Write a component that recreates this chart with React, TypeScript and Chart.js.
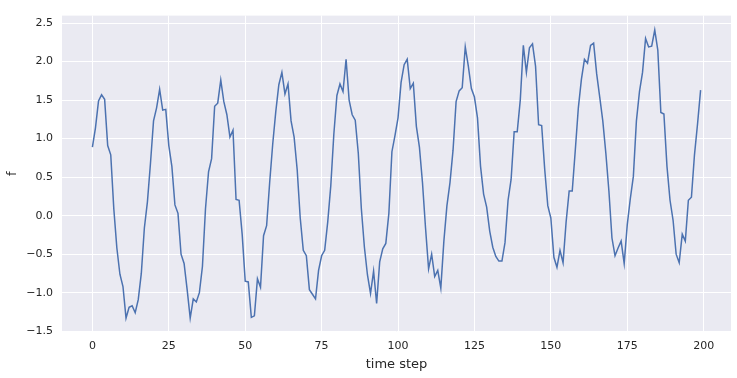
import { useEffect, useRef } from 'react';
import { Chart, registerables } from 'chart.js';

Chart.register(...registerables);

// time step indices 0..199
const timeSteps: number[] = Array.from({ length: 200 }, (_, i) => i);

// f values, by time step
const f: number[] = [
  // 0-32
  0.89, 1.14, 1.49, 1.57, 1.51, 0.91, 0.79, 0.09, -0.42, -0.76, -0.92, -1.33, -1.19, -1.17, -1.26, -1.09, -0.75,
  -0.16, 0.18, 0.68, 1.23, 1.4, 1.64, 1.37, 1.38, 0.91, 0.64, 0.14, 0.03, -0.5, -0.62, -0.96, -1.33,
  // 33-65
  -1.08, -1.12, -1.0, -0.66, 0.09, 0.57, 0.74, 1.42, 1.46, 1.76, 1.48, 1.31, 1.02, 1.11, 0.21, 0.2, -0.24,
  -0.85, -0.86, -1.32, -1.3, -0.82, -0.93, -0.26, -0.13, 0.43, 0.93, 1.35, 1.7, 1.86, 1.58, 1.71, 1.23,
  // 66-97
  1.02, 0.6, -0.03, -0.45, -0.52, -0.96, -1.02, -1.08, -0.71, -0.52, -0.45, -0.08, 0.39, 1.06, 1.56, 1.71,
  1.61, 2.03, 1.5, 1.31, 1.24, 0.81, 0.09, -0.41, -0.77, -1.01, -0.72, -1.14, -0.6, -0.43, -0.36, 0.03,
  // 98-130
  0.83, 1.04, 1.27, 1.73, 1.96, 2.03, 1.65, 1.72, 1.16, 0.89, 0.43, -0.16, -0.69, -0.5, -0.79, -0.71, -0.94,
  -0.33, 0.13, 0.43, 0.85, 1.48, 1.62, 1.66, 2.19, 1.94, 1.65, 1.54, 1.27, 0.64, 0.28, 0.11, -0.2,
  // 131-163
  -0.41, -0.53, -0.59, -0.59, -0.35, 0.2, 0.47, 1.09, 1.09, 1.5, 2.21, 1.86, 2.18, 2.23, 1.94, 1.18, 1.17,
  0.6, 0.13, -0.03, -0.54, -0.67, -0.45, -0.61, -0.08, 0.32, 0.32, 0.85, 1.4, 1.77, 2.03, 1.98, 2.21,
  // 164-199
  2.24, 1.84, 1.54, 1.23, 0.81, 0.32, -0.29, -0.52, -0.42, -0.33, -0.62, -0.12, 0.22, 0.51, 1.23, 1.61, 1.86,
  2.3, 2.19, 2.2, 2.41, 2.15, 1.34, 1.32, 0.64, 0.2, -0.06, -0.5, -0.61, -0.24, -0.33, 0.2, 0.24, 0.79, 1.19, 1.63,
];

const xTicks: number[] = [0, 25, 50, 75, 100, 125, 150, 175, 200];
const yTicks: number[] = [-1.5, -1.0, -0.5, 0.0, 0.5, 1.0, 1.5, 2.0, 2.5];

const xLabel = 'time step';
const yLabel = 'f';

const FONT = "'DejaVu Sans', sans-serif";
const TEXT = '#262626';

export default function App() {
  const ref = useRef<HTMLCanvasElement>(null);
  useEffect(() => {
    document.body.style.margin = '0';
    const canvas = ref.current;
    if (!canvas) return;
    const bg = {
      id: 'bg',
      beforeDraw(c: any) {
        const { ctx, chartArea: a } = c;
        ctx.save();
        ctx.fillStyle = '#EAEAF2';
        ctx.fillRect(a.left, a.top, a.right - a.left, a.bottom - a.top);
        ctx.restore();
      },
    };
    const chart = new Chart(canvas, {
      type: 'line',
      data: {
        datasets: [
          {
            data: timeSteps.map((x, i) => ({ x, y: f[i] })),
            borderColor: '#4C72B0',
            borderWidth: 1.5,
            pointRadius: 0,
            tension: 0,
            fill: false,
          },
        ],
      },
      options: {
        animation: false,
        responsive: false,
        layout: { padding: { top: 6, right: 6, left: 0, bottom: 0 } },
        plugins: { legend: { display: false }, tooltip: { enabled: false } },
        scales: {
          x: {
            type: 'linear',
            min: -9.95,
            max: 208.95,
            afterBuildTicks: (s: any) => {
              s.ticks = xTicks.map((v) => ({ value: v }));
            },
            afterFit: (s: any) => {
              s.height = 46;
            },
            grid: { color: '#ffffff', lineWidth: 1, drawTicks: false },
            border: { display: false },
            ticks: {
              padding: 8,
              color: TEXT,
              font: { family: FONT, size: 11 },
              maxRotation: 0,
              autoSkip: false,
              callback: (v: any) => String(v),
            },
            title: {
              display: true,
              text: xLabel,
              color: TEXT,
              font: { family: FONT, size: 13 },
              padding: { top: 0, bottom: 6 },
            },
          },
          y: {
            type: 'linear',
            min: -1.51,
            max: 2.597,
            afterBuildTicks: (s: any) => {
              s.ticks = yTicks.map((v) => ({ value: v }));
            },
            afterFit: (s: any) => {
              s.width = 62;
            },
            grid: { color: '#ffffff', lineWidth: 1, drawTicks: false },
            border: { display: false },
            ticks: {
              padding: 9,
              color: TEXT,
              font: { family: FONT, size: 11 },
              autoSkip: false,
              callback: (v: any) => Number(v).toFixed(1).replace('-', '\u2212'),
            },
            title: {
              display: true,
              text: yLabel,
              color: TEXT,
              font: { family: FONT, size: 13 },
              padding: { top: 5, bottom: 0 },
            },
          },
        },
      },
      plugins: [bg],
    });
    return () => chart.destroy();
  }, []);
  return (
    <div style={{ width: 737, height: 378 }}>
      <canvas ref={ref} width={737} height={378} style={{ display: 'block' }} />
    </div>
  );
}
